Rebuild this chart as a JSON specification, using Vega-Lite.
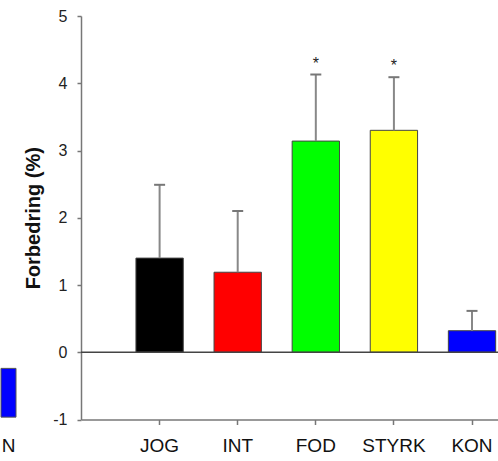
{
  "$schema": "https://vega.github.io/schema/vega-lite/v6.json",
  "padding": {"top": 8, "left": 0, "right": 0, "bottom": 0},
  "background": "white",
  "config": {"view": {"stroke": null}, "font": "Liberation Sans"},
  "bounds": "flush",
  "spacing": 65,
  "datasets": {
    "grupper": [
      {"gruppe": "JOG", "forbedring": 1.4, "ovre": 2.49, "sig": ""},
      {"gruppe": "INT", "forbedring": 1.19, "ovre": 2.1, "sig": ""},
      {"gruppe": "FOD", "forbedring": 3.14, "ovre": 4.13, "sig": "*"},
      {"gruppe": "STYRK", "forbedring": 3.3, "ovre": 4.09, "sig": "*"},
      {"gruppe": "KON", "forbedring": 0.32, "ovre": 0.615, "sig": ""}
    ],
    "forrige": [
      {"gruppe": "KON", "start": -0.24, "slutt": -0.965}
    ],
    "nullinje": [
      {"niveau": 0}
    ]
  },
  "hconcat": [
    {
      "width": 15,
      "height": 403.5,
      "data": {"name": "forrige"},
      "mark": {"type": "bar", "fill": "#0000ff", "stroke": "#555555", "strokeWidth": 1},
      "encoding": {
        "x": {
          "field": "gruppe", "type": "nominal",
          "scale": {"paddingInner": 0, "paddingOuter": 0},
          "axis": {"title": null, "domain": false, "ticks": false, "labelAngle": 0, "labelFontSize": 19, "labelColor": "#111111", "labelPadding": 17, "labelExpr": "substring(datum.label, 2)"}
        },
        "y": {"field": "start", "type": "quantitative", "scale": {"domain": [-1, 5]}, "axis": null},
        "y2": {"field": "slutt"}
      }
    },
    {
      "width": 418,
      "height": 403.5,
      "layer": [
        {
          "data": {"name": "grupper"},
          "mark": {"type": "bar", "stroke": "#444444", "strokeWidth": 1},
          "encoding": {
            "x": {
              "field": "gruppe", "type": "nominal", "sort": null,
              "scale": {"paddingInner": 0.394, "paddingOuter": 0.373, "align": 0.943, "round": false},
              "axis": {"title": null, "labelAngle": 0, "labelFontSize": 19, "labelColor": "#111111", "labelPadding": 12, "tickSize": 5, "tickColor": "#777777", "tickWidth": 1.5, "domainColor": "#777777", "domainWidth": 1.5}
            },
            "y": {
              "field": "forbedring", "type": "quantitative",
              "scale": {"domain": [-1, 5], "nice": false},
              "axis": {"title": "Forbedring (%)", "labelExpr": "toString(datum.value)", "titleFontSize": 20, "titleFontWeight": "bold", "titleColor": "#111111", "titlePadding": 9, "values": [-1, 0, 1, 2, 3, 4, 5], "grid": false, "labelFontSize": 16, "labelColor": "#222222", "labelPadding": 10, "tickSize": 4, "tickColor": "#777777", "tickWidth": 1.5, "domainColor": "#777777", "domainWidth": 1.5}
            },
            "color": {
              "field": "gruppe", "type": "nominal",
              "scale": {"domain": ["JOG", "INT", "FOD", "STYRK", "KON"], "range": ["#000000", "#ff0000", "#00ff00", "#ffff00", "#0000ff"]},
              "legend": null
            }
          }
        },
        {
          "data": {"name": "grupper"},
          "mark": {"type": "rule", "color": "#888888", "strokeWidth": 2},
          "encoding": {
            "x": {"field": "gruppe", "type": "nominal", "sort": null},
            "y": {"field": "forbedring", "type": "quantitative"},
            "y2": {"field": "ovre"}
          }
        },
        {
          "data": {"name": "grupper"},
          "mark": {"type": "tick", "color": "#777777", "thickness": 2, "size": 11, "opacity": 1},
          "encoding": {
            "x": {"field": "gruppe", "type": "nominal", "sort": null},
            "y": {"field": "ovre", "type": "quantitative"}
          }
        },
        {
          "data": {"name": "grupper"},
          "mark": {"type": "text", "fontSize": 16, "dy": -6, "baseline": "alphabetic", "color": "#222222"},
          "encoding": {
            "x": {"field": "gruppe", "type": "nominal", "sort": null},
            "y": {"field": "ovre", "type": "quantitative"},
            "text": {"field": "sig"}
          }
        },
        {
          "data": {"name": "nullinje"},
          "mark": {"type": "rule", "color": "#444444", "strokeWidth": 1.5},
          "encoding": {
            "y": {"field": "niveau", "type": "quantitative"}
          }
        }
      ]
    }
  ]
}
